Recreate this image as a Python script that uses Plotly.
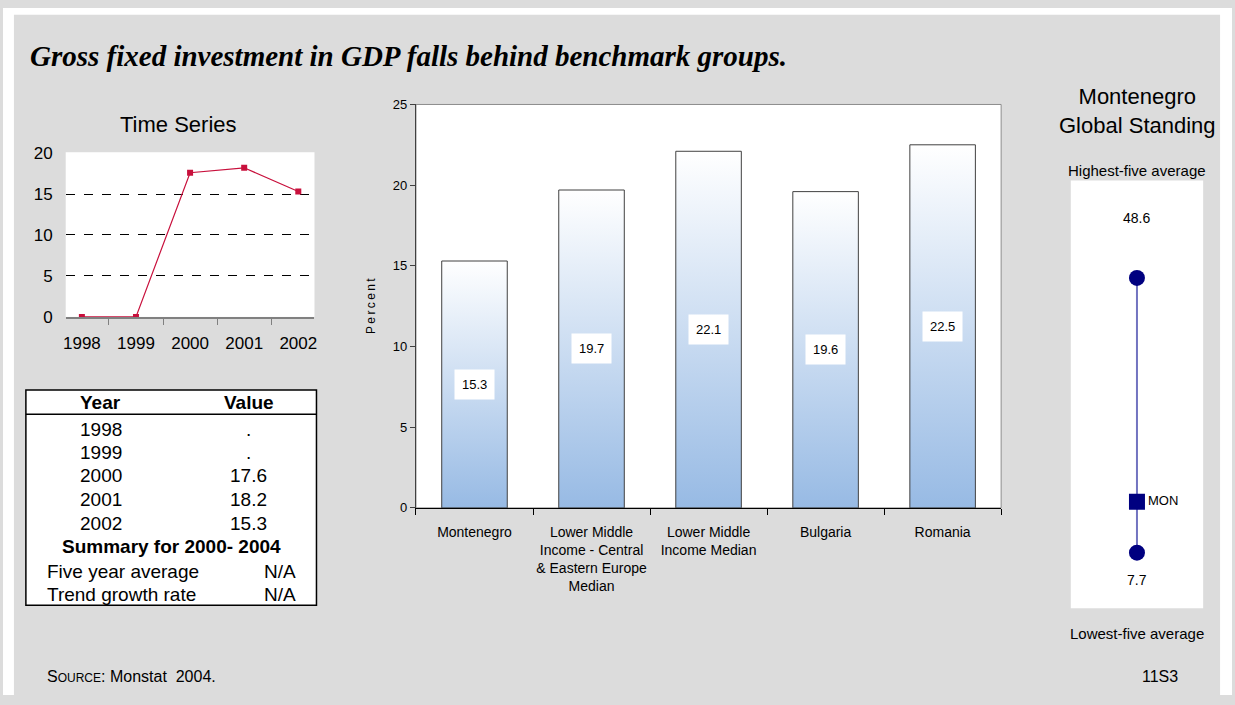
import plotly.graph_objects as go

W, H = 1235, 705

# ---- data -------------------------------------------------------------
ts_years = ["1998", "1999", "2000", "2001", "2002"]
ts_values = [0, 0, 17.6, 18.2, 15.3]

table_years = ["1998", "1999", "2000", "2001", "2002"]
table_values = [".", ".", "17.6", "18.2", "15.3"]
summary_title = "Summary for 2000- 2004"
summary_labels = ["Five year average", "Trend growth rate"]
summary_values = ["N/A", "N/A"]

bar_categories = [
    "Montenegro",
    "Lower Middle<br>Income - Central<br>& Eastern Europe<br>Median",
    "Lower Middle<br>Income Median",
    "Bulgaria",
    "Romania",
]
bar_values = [15.3, 19.7, 22.1, 19.6, 22.5]

standing_high = 48.6
standing_low = 7.7
standing_country = 15.3
standing_code = "MON"

# ---- styling ----------------------------------------------------------
SANS = "Liberation Sans, Arial, sans-serif"
SERIF = "Liberation Serif, Times New Roman, serif"
GRAY_BG = "#dcdcdc"
LINE_RED = "#c8103c"
NAVY = "#000080"
BAR_BLUE = "#97bae4"
BAR_W = 0.56


def fx(px):
    """page x pixel -> paper fraction"""
    return px / W


def fy(py):
    """page y pixel (from top) -> paper fraction"""
    return 1 - py / H


fig = go.Figure()

# ---- time series ------------------------------------------------------
fig.add_trace(go.Scatter(
    x=ts_years, y=ts_values, mode="lines+markers",
    line=dict(color=LINE_RED, width=1.2),
    marker=dict(symbol="square", size=6, color=LINE_RED),
    xaxis="x", yaxis="y", showlegend=False, hoverinfo="x+y",
))

# ---- bar chart (gradient-filled bars) ---------------------------------
for i, v in enumerate(bar_values):
    x0, x1 = i - BAR_W / 2, i + BAR_W / 2
    fig.add_trace(go.Scatter(
        x=[x0, x0, x1, x1, x0], y=[0, v, v, 0, 0],
        mode="lines", fill="toself",
        fillgradient=dict(type="vertical",
                          colorscale=[[0, BAR_BLUE], [1, "#ffffff"]]),
        line=dict(color="#404040", width=1),
        xaxis="x2", yaxis="y2", showlegend=False, hoverinfo="skip",
    ))

# value labels in white boxes at mid-height of each bar
for i, v in enumerate(bar_values):
    fig.add_annotation(
        x=i, y=v / 2, xref="x2", yref="y2", text=f"{v:.1f}",
        showarrow=False, bgcolor="white", borderpad=7,
        font=dict(family=SANS, size=13, color="black"),
    )

# ---- global standing --------------------------------------------------
fig.add_trace(go.Scatter(
    x=[0, 0], y=[standing_low, standing_high], mode="lines",
    line=dict(color="#7274c0", width=2),
    xaxis="x4", yaxis="y4", showlegend=False, hoverinfo="skip",
))
fig.add_trace(go.Scatter(
    x=[0, 0], y=[standing_low, standing_high], mode="markers",
    marker=dict(symbol="circle", size=16, color=NAVY),
    xaxis="x4", yaxis="y4", showlegend=False,
))
fig.add_trace(go.Scatter(
    x=[0], y=[standing_country], mode="markers+text",
    marker=dict(symbol="square", size=16, color=NAVY),
    text=[standing_code], textposition="middle right",
    textfont=dict(family=SANS, size=13, color="black"),
    xaxis="x4", yaxis="y4", showlegend=False,
))
fig.add_annotation(x=0, y=standing_high, xref="x4", yref="y4",
                   text=f"{standing_high}", showarrow=False, yshift=60,
                   font=dict(family=SANS, size=14, color="black"))
fig.add_annotation(x=0, y=standing_low, xref="x4", yref="y4",
                   text=f"{standing_low}", showarrow=False, yshift=-27,
                   font=dict(family=SANS, size=14, color="black"))

# ---- shapes: page frame and data table box ----------------------------
shapes = [
    # white edges around the grey panel
    dict(type="rect", xref="paper", yref="paper", x0=0, x1=1, y0=fy(7), y1=1,
         fillcolor="white", line=dict(width=0), layer="below"),
    dict(type="rect", xref="paper", yref="paper", x0=0, x1=fx(11), y0=0, y1=1,
         fillcolor="white", line=dict(width=0), layer="below"),
    dict(type="rect", xref="paper", yref="paper", x0=fx(1223), x1=1, y0=0, y1=1,
         fillcolor="white", line=dict(width=0), layer="below"),
    # table
    dict(type="rect", xref="paper", yref="paper",
         x0=fx(23), x1=fx(315), y0=fy(613), y1=fy(392),
         fillcolor="white", line=dict(color="black", width=1.5), layer="below"),
    dict(type="line", xref="paper", yref="paper",
         x0=fx(23), x1=fx(315), y0=fy(417), y1=fy(417),
         line=dict(color="black", width=1.5)),
    # bar chart plot-area frame
    dict(type="rect", xref="x2 domain", yref="y2 domain", x0=0, x1=1, y0=0, y1=1,
         line=dict(color="#8c8c8c", width=1), layer="below"),
]
for s in shapes:
    fig.add_shape(**s)


def txt(text, x, y, size, xanchor="center", bold=False, family=SANS, italic=False):
    if bold:
        text = f"<b>{text}</b>"
    if italic:
        text = f"<i>{text}</i>"
    fig.add_annotation(
        text=text, x=fx(x), y=fy(y), xref="paper", yref="paper",
        xanchor=xanchor, yanchor="middle", showarrow=False,
        font=dict(family=family, size=size, color="black"),
    )


# headline
txt("Gross fixed investment in GDP falls behind benchmark groups.",
    25, 49, 29, xanchor="left", bold=True, italic=True, family=SERIF)

# time series title
txt("Time Series", 176, 120, 22)

# table contents
txt("Year", 98, 405, 19, bold=True)
txt("Value", 247, 405, 19, bold=True)
row_y = [433, 456, 480, 504, 529]
for yr, val, ry in zip(table_years, table_values, row_y):
    txt(yr, 98, ry, 19)
    txt(val, 247, ry, 19)
txt(summary_title, 169, 553, 19, bold=True)
for lab, val, ry in zip(summary_labels, summary_values, [578, 602]):
    txt(lab, 42, ry, 19, xanchor="left")
    txt(val, 296, ry, 19, xanchor="right")

# global standing panel text
txt("Montenegro<br>Global Standing", 1140, 106, 22)
txt("Highest-five average", 1140, 167, 15)
txt("Lowest-five average", 1140, 642, 15)

# footer
txt("S<span style='font-size:12px'>OURCE</span>: Monstat  2004.", 42, 686, 16,
    xanchor="left")
txt("11S3", 1163, 686, 16)

fig.update_layout(
    width=W, height=H,
    margin=dict(l=0, r=0, t=0, b=0),
    paper_bgcolor=GRAY_BG, plot_bgcolor="white",
    font=dict(family=SANS, color="black"),
    hovermode="closest",
    # time series axes
    xaxis=dict(domain=[fx(63), fx(313)], type="category", tickson="boundaries",
               ticks="outside", ticklen=6, tickcolor="#808080",
               ticklabelstandoff=10,
               showline=True, linecolor="#808080", linewidth=1.5,
               showgrid=False, anchor="y",
               tickfont=dict(family=SANS, size=17, color="black")),
    yaxis=dict(domain=[fy(317), fy(148)], range=[0, 20.1], dtick=5,
               showgrid=True, gridcolor="black", griddash="dash", gridwidth=1,
               zeroline=False, showline=False, ticks="", anchor="x",
               ticklabelstandoff=12,
               tickfont=dict(family=SANS, size=17, color="black")),
    # bar chart axes
    xaxis2=dict(domain=[fx(415), fx(1003)], range=[-0.5, 4.5],
                tickmode="array", tickvals=list(range(len(bar_categories))),
                ticktext=bar_categories, ticks="",
                ticklabelstandoff=11,
                minor=dict(tick0=-0.5, dtick=1, ticks="outside", ticklen=6,
                           tickcolor="black", showgrid=False),
                showline=True, linecolor="black", linewidth=1.2,
                showgrid=False, zeroline=False, anchor="y2",
                tickfont=dict(family=SANS, size=14, color="black")),
    yaxis2=dict(domain=[fy(513), fy(99)], range=[0, 25], dtick=5,
                ticks="outside", ticklen=5, tickcolor="#404040",
                showline=True, linecolor="#404040", linewidth=1.2,
                showgrid=False, zeroline=False, anchor="x2",
                title=dict(text="P\u2009e\u2009r\u2009c\u2009e\u2009n\u2009t",
                           standoff=14,
                           font=dict(family=SANS, size=12, color="black")),
                tickfont=dict(family=SANS, size=13, color="black")),
    # global standing axes
    xaxis4=dict(domain=[fx(1073), fx(1206)], range=[-1, 1], visible=False,
                anchor="y4"),
    yaxis4=dict(domain=[fy(616), fy(177)], range=[-0.57, 63.1], visible=False,
                anchor="x4"),
)

fig.write_html("out.html")
